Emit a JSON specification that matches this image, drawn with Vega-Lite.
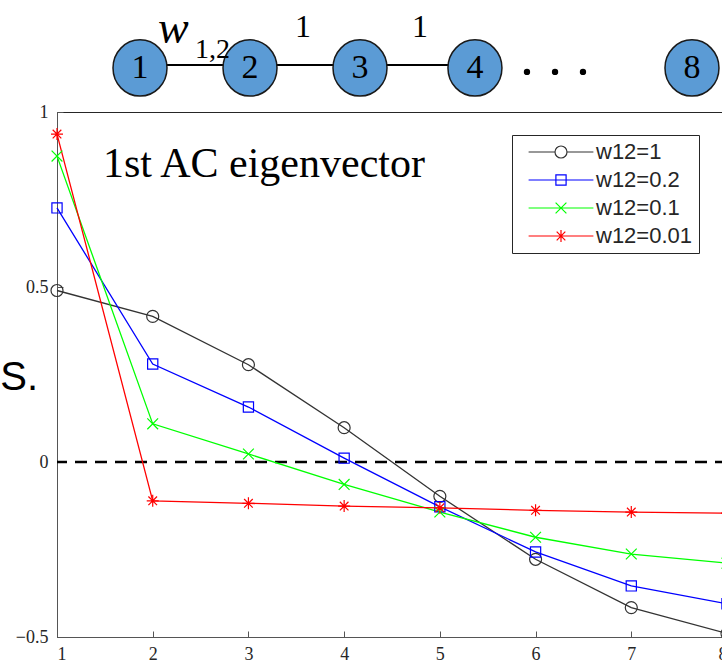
{
  "$schema": "https://vega.github.io/schema/vega-lite/v6.json",
  "width": 670,
  "height": 525,
  "autosize": {"type": "none"},
  "padding": {"left": 57, "top": 112, "right": -5, "bottom": 26},
  "background": "white",
  "config": {
    "view": {"stroke": "#262626", "strokeWidth": 1},
    "axis": {"grid": false, "domainColor": "#555555", "tickColor": "#555555", "labelColor": "#262626", "labelFont": "Liberation Sans Narrow", "labelFontSize": 18, "tickSize": -6, "title": null}
  },
  "datasets": {
    "series": [
      {"x": 1, "y": 0.490, "s": "w12=1"}, {"x": 2, "y": 0.416, "s": "w12=1"}, {"x": 3, "y": 0.278, "s": "w12=1"}, {"x": 4, "y": 0.098, "s": "w12=1"},
      {"x": 5, "y": -0.098, "s": "w12=1"}, {"x": 6, "y": -0.278, "s": "w12=1"}, {"x": 7, "y": -0.416, "s": "w12=1"}, {"x": 8, "y": -0.490, "s": "w12=1"},
      {"x": 1, "y": 0.726, "s": "w12=0.2"}, {"x": 2, "y": 0.280, "s": "w12=0.2"}, {"x": 3, "y": 0.157, "s": "w12=0.2"}, {"x": 4, "y": 0.011, "s": "w12=0.2"},
      {"x": 5, "y": -0.128, "s": "w12=0.2"}, {"x": 6, "y": -0.257, "s": "w12=0.2"}, {"x": 7, "y": -0.354, "s": "w12=0.2"}, {"x": 8, "y": -0.405, "s": "w12=0.2"},
      {"x": 1, "y": 0.874, "s": "w12=0.1"}, {"x": 2, "y": 0.109, "s": "w12=0.1"}, {"x": 3, "y": 0.023, "s": "w12=0.1"}, {"x": 4, "y": -0.064, "s": "w12=0.1"},
      {"x": 5, "y": -0.143, "s": "w12=0.1"}, {"x": 6, "y": -0.215, "s": "w12=0.1"}, {"x": 7, "y": -0.263, "s": "w12=0.1"}, {"x": 8, "y": -0.289, "s": "w12=0.1"},
      {"x": 1, "y": 0.937, "s": "w12=0.01"}, {"x": 2, "y": -0.111, "s": "w12=0.01"}, {"x": 3, "y": -0.118, "s": "w12=0.01"}, {"x": 4, "y": -0.126, "s": "w12=0.01"},
      {"x": 5, "y": -0.131, "s": "w12=0.01"}, {"x": 6, "y": -0.138, "s": "w12=0.01"}, {"x": 7, "y": -0.143, "s": "w12=0.01"}, {"x": 8, "y": -0.146, "s": "w12=0.01"}
    ],
    "nodes": [
      {"p": 1, "u": 0, "label": "1"}, {"p": 2, "u": 0, "label": "2"}, {"p": 3, "u": 0, "label": "3"}, {"p": 4.045, "u": 0, "label": "4"}, {"p": 6.018, "u": 0, "label": "8"}
    ],
    "edges": [
      {"p1": 1, "p2": 2, "u": 0.1}, {"p1": 2, "p2": 3, "u": 0.1}, {"p1": 3, "p2": 4.045, "u": 0.1}
    ],
    "dots": [
      {"p": 4.518, "u": -0.13}, {"p": 4.773, "u": -0.13}, {"p": 5.027, "u": -0.13}
    ]
  },
  "resolve": {"scale": {"x": "independent", "y": "independent"}},
  "layer": [
    {
      "layer": [
        {
          "data": {"values": [{"y": 0}]},
          "mark": {"type": "rule", "strokeDash": [12, 8], "strokeWidth": 2.5, "color": "black"},
          "encoding": {"y": {"field": "y", "type": "quantitative", "scale": {"domain": [-0.5, 1], "nice": false, "zero": false}, "axis": {"values": [-0.5, 0, 0.5, 1], "format": "~g", "labelPadding": 15}}}
        },
        {
          "data": {"name": "series"},
          "mark": {"type": "line", "strokeWidth": 1.3},
          "encoding": {
            "x": {"field": "x", "type": "quantitative", "scale": {"domain": [1, 8], "nice": false, "zero": false}, "axis": {"values": [1, 2, 3, 4, 5, 6, 7, 8], "format": "d", "labelPadding": 14}},
            "y": {"field": "y", "type": "quantitative", "scale": {"domain": [-0.5, 1], "nice": false, "zero": false}, "axis": {"values": [-0.5, 0, 0.5, 1], "format": "~g", "labelPadding": 15}},
            "color": {
              "field": "s", "type": "nominal",
              "scale": {"domain": ["w12=1", "w12=0.2", "w12=0.1", "w12=0.01"], "range": ["#333333", "#0000ff", "#00ff00", "#ff0000"]},
              "legend": {
                "orient": "none", "legendX": 455, "legendY": 23, "title": null,
                "padding": 6, "strokeColor": "#262626", "fillColor": "white",
                "symbolSize": 144, "symbolStrokeWidth": 1.2, "symbolOffset": 32, "labelOffset": 24,
                "symbolFillColor": "transparent",
                "labelFont": "Liberation Sans", "labelFontSize": 22, "labelColor": "#262626", "rowPadding": 6, "labelLimit": 0
              }
            },
            "order": {"field": "x", "type": "quantitative"}
          }
        },
        {
          "data": {"name": "series"},
          "mark": {"type": "point", "filled": false, "size": 144, "strokeWidth": 1.2, "opacity": 0},
          "encoding": {
            "x": {"field": "x", "type": "quantitative"},
            "y": {"field": "y", "type": "quantitative"},
            "color": {"field": "s", "type": "nominal"},
            "shape": {
              "field": "s", "type": "nominal",
              "scale": {"domain": ["w12=1", "w12=0.2", "w12=0.1", "w12=0.01"], "range": [
                "M-5.4,0L-1,0M1,0L5.4,0M1,0A1,1 0 1,1 -1,0A1,1 0 1,1 1,0Z",
                "M-5.4,0L5.4,0M-0.85,-0.85L0.85,-0.85L0.85,0.85L-0.85,0.85Z",
                "M-5.4,0L5.4,0M-0.9,-0.9L0.9,0.9M-0.9,0.9L0.9,-0.9",
                "M-5.4,0L5.4,0M0,-1L0,1M-0.72,-0.72L0.72,0.72M-0.72,0.72L0.72,-0.72"]}
            }
          }
        },
        {
          "data": {"name": "series"},
          "transform": [{"filter": {"field": "s", "equal": "w12=1"}}],
          "mark": {"type": "point", "filled": false, "size": 144, "strokeWidth": 1.2, "opacity": 1, "shape": "M1,0A1,1 0 1,1 -1,0A1,1 0 1,1 1,0Z"},
          "encoding": {"x": {"field": "x", "type": "quantitative"}, "y": {"field": "y", "type": "quantitative"}, "color": {"field": "s", "type": "nominal"}}
        },
        {
          "data": {"name": "series"},
          "transform": [{"filter": {"field": "s", "equal": "w12=0.2"}}],
          "mark": {"type": "point", "filled": false, "size": 144, "strokeWidth": 1.2, "opacity": 1, "shape": "M-0.85,-0.85L0.85,-0.85L0.85,0.85L-0.85,0.85Z"},
          "encoding": {"x": {"field": "x", "type": "quantitative"}, "y": {"field": "y", "type": "quantitative"}, "color": {"field": "s", "type": "nominal"}}
        },
        {
          "data": {"name": "series"},
          "transform": [{"filter": {"field": "s", "equal": "w12=0.1"}}],
          "mark": {"type": "point", "filled": false, "size": 144, "strokeWidth": 1.2, "opacity": 1, "shape": "M-0.9,-0.9L0.9,0.9M-0.9,0.9L0.9,-0.9"},
          "encoding": {"x": {"field": "x", "type": "quantitative"}, "y": {"field": "y", "type": "quantitative"}, "color": {"field": "s", "type": "nominal"}}
        },
        {
          "data": {"name": "series"},
          "transform": [{"filter": {"field": "s", "equal": "w12=0.01"}}],
          "mark": {"type": "point", "filled": false, "size": 144, "strokeWidth": 1.2, "opacity": 1, "shape": "M-1,0L1,0M0,-1L0,1M-0.72,-0.72L0.72,0.72M-0.72,0.72L0.72,-0.72"},
          "encoding": {"x": {"field": "x", "type": "quantitative"}, "y": {"field": "y", "type": "quantitative"}, "color": {"field": "s", "type": "nominal"}}
        },
        {
          "data": {"values": [{"x": 1.4806, "y": 0.8143, "t": "1st AC eigenvector"}]},
          "mark": {"type": "text", "font": "Liberation Serif", "fontSize": 42, "align": "left", "baseline": "alphabetic", "color": "black"},
          "encoding": {"x": {"field": "x", "type": "quantitative"}, "y": {"field": "y", "type": "quantitative"}, "text": {"field": "t"}}
        },
        {
          "data": {"values": [{"x": 0.8015, "y": 0.2057, "t": "S."}]},
          "mark": {"type": "text", "font": "Liberation Sans", "fontSize": 40, "align": "right", "baseline": "alphabetic", "color": "black"},
          "encoding": {"x": {"field": "x", "type": "quantitative"}, "y": {"field": "y", "type": "quantitative"}, "text": {"field": "t"}}
        }
      ]
    },
    {
      "layer": [
        {
          "data": {"name": "edges"},
          "mark": {"type": "rule", "strokeWidth": 2, "color": "black"},
          "encoding": {
            "x": {"field": "p1", "type": "quantitative", "scale": {"domain": [0.24545, 6.33636], "nice": false, "zero": false}, "axis": null},
            "x2": {"field": "p2"},
            "y": {"field": "u", "type": "quantitative", "scale": {"domain": [-18.967, -1.4667], "nice": false, "zero": false}, "axis": null}
          }
        },
        {
          "data": {"name": "nodes"},
          "mark": {"type": "point", "shape": "M0,-1A0.96,1 0 1,1 0,1A0.96,1 0 1,1 0,-1Z", "size": 3164, "filled": true, "fill": "#5B9BD5", "stroke": "#1a1a1a", "strokeWidth": 1.5, "opacity": 1, "fillOpacity": 1},
          "encoding": {
            "x": {"field": "p", "type": "quantitative", "axis": null},
            "y": {"field": "u", "type": "quantitative", "axis": null}
          }
        },
        {
          "data": {"name": "nodes"},
          "mark": {"type": "text", "font": "Liberation Serif", "fontSize": 34, "baseline": "middle", "align": "center", "color": "black"},
          "encoding": {
            "x": {"field": "p", "type": "quantitative", "axis": null},
            "y": {"field": "u", "type": "quantitative", "axis": null},
            "text": {"field": "label"}
          }
        },
        {
          "data": {"name": "dots"},
          "mark": {"type": "point", "shape": "circle", "size": 40, "filled": true, "color": "black", "opacity": 1},
          "encoding": {
            "x": {"field": "p", "type": "quantitative", "axis": null},
            "y": {"field": "u", "type": "quantitative", "axis": null}
          }
        },
        {
          "data": {"values": [{"p": 1.1636, "u": 0.833, "t": "w"}]},
          "mark": {"type": "text", "font": "Liberation Serif", "fontSize": 46, "fontStyle": "italic", "align": "left", "baseline": "alphabetic", "color": "black"},
          "encoding": {
            "x": {"field": "p", "type": "quantitative", "axis": null},
            "y": {"field": "u", "type": "quantitative", "axis": null},
            "text": {"field": "t"}
          }
        },
        {
          "data": {"values": [{"p": 1.5, "u": 0.333, "t": "1,2"}]},
          "mark": {"type": "text", "font": "Liberation Serif", "fontSize": 28, "align": "left", "baseline": "alphabetic", "color": "black"},
          "encoding": {
            "x": {"field": "p", "type": "quantitative", "axis": null},
            "y": {"field": "u", "type": "quantitative", "axis": null},
            "text": {"field": "t"}
          }
        },
        {
          "data": {"values": [{"p": 2.482, "u": 1.033, "t": "1"}, {"p": 3.545, "u": 1.033, "t": "1"}]},
          "mark": {"type": "text", "font": "Liberation Serif", "fontSize": 32, "align": "center", "baseline": "alphabetic", "color": "black"},
          "encoding": {
            "x": {"field": "p", "type": "quantitative", "axis": null},
            "y": {"field": "u", "type": "quantitative", "axis": null},
            "text": {"field": "t"}
          }
        }
      ]
    }
  ]
}
